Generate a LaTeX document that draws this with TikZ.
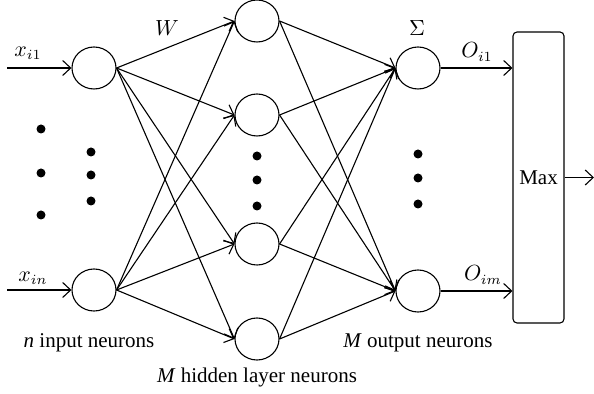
\documentclass[tikz,border=0pt]{standalone}
\usepackage{amsmath}
\usepackage{fontspec}
\setmainfont{Liberation Serif}
\usetikzlibrary{positioning,shapes.geometric,arrows.meta}

\tikzset{
  neuron/.style={ellipse,draw,minimum width=22pt,minimum height=21pt,inner sep=0pt},
  bigdot/.style={circle,fill=black,minimum size=4.5pt,inner sep=0pt},
  link/.style={-{Straight Barb[length=4pt,width=7.5pt]}},
  lbl/.style={font=\fontsize{10.5}{12}\selectfont}
}

\begin{document}
\begin{tikzpicture}[x=0.5pt,y=-0.5pt,line width=0.55pt]
    \useasboundingbox (0,0) rectangle (594,394);

    % Input layer
    \node[neuron] (in1) at (94,68) {};
    \node[neuron] (in2) at (94,290) {};
    \coordinate (x1) at (7,68);
    \coordinate (x2) at (7,290);

    % Hidden layer
    \node[neuron] (h1) at (257,21) {};
    \node[neuron] (h2) at (257,115) {};
    \node[neuron] (h3) at (257,244) {};
    \node[neuron] (h4) at (257,339) {};

    % Output layer
    \node[neuron] (out1) at (418,68) {};
    \node[neuron] (out2) at (418,291) {};

    % Max block
    \node[draw,rounded corners=2pt,minimum width=25.5pt,minimum height=145.5pt,inner sep=0pt,lbl] (maxbox) at (538.5,177.5) {Max};
    \coordinate (y) at (594,177.5);

    % Connections
    \draw[link] (x1) -- (in1.west);
    \draw[link] (x2) -- (in2.west);
    \foreach \i in {1,2}
      \foreach \j in {1,...,4}
        \draw[link] (in\i.east) -- (h\j.west);
    \foreach \j in {1,...,4}
      \foreach \k in {1,2}
        \draw[link] (h\j.east) -- (out\k.west);
    \draw[link] (out1.east) -- (out1.east -| maxbox.west);
    \draw[link] (out2.east) -- (out2.east -| maxbox.west);
    \draw[link] (maxbox.east |- y) -- (y);

    % Dots
    \foreach \y in {129,173,215} \node[bigdot] at (41,\y) {};
    \foreach \y in {152,175,201} \node[bigdot] at (91,\y) {};
    \foreach \y in {156,180,206} \node[bigdot] at (257,\y) {};
    \foreach \y in {154,178,204} \node[bigdot] at (418,\y) {};

    % Labels
    \node[lbl] (lx1) at (28,53) {$x_{i1}$};
    \node[lbl] (lxn) at (33,278) {$x_{in}$};
    \node[lbl] (lw) at (167,28) {$W$};
    \node[lbl] (lsum) at (417,28) {$\Sigma$};
    \node[lbl] (lo1) at (477,52) {$O_{i1}$};
    \node[lbl] (lom) at (483,275) {$O_{im}$};
    \node[lbl] (tin) at (89,343) {\textit{n} input neurons};
    \node[lbl] (tout) at (418,343) {\textit{M} output neurons};
    \node[lbl] (thid) at (257,377) {\textit{M} hidden layer neurons};
\end{tikzpicture}
\end{document}
